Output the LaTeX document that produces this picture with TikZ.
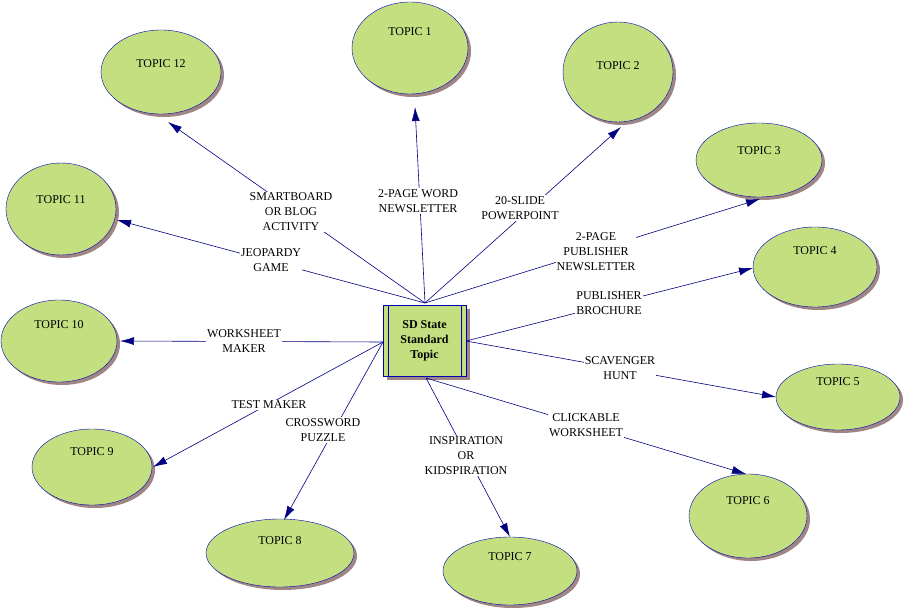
\documentclass[tikz,border=0pt]{standalone}
\usepackage{fontspec}
\setmainfont{Liberation Serif}
\usetikzlibrary{shapes.geometric,arrows.meta}
\definecolor{leaf}{HTML}{C3DF80}
\definecolor{shad}{HTML}{A08585}
\definecolor{navy}{HTML}{000080}
\begin{document}
\begin{tikzpicture}[x=1pt,y=-1pt,
  lab/.style={fill=white,inner sep=1pt,align=center,font=\fontsize{12}{15}\selectfont},
  conn/.style={draw=navy,line width=0.6pt,-{Latex[length=14pt,width=8pt]}},
  ttl/.style={font=\fontsize{12}{14}\selectfont}]
\useasboundingbox (0,0) rectangle (904,612);
\newcommand{\topic}[7]{% name,x,y,rx,ry,label,texty
  \fill[shad] (#2+3,#3+3) ellipse [x radius=#4, y radius=#5];
  \node[ellipse,draw=blue!70!black,fill=leaf,minimum width=2*#4,minimum height=2*#5,inner sep=0pt] (#1) at (#2,#3) {};
  \node[ttl] (#1l) at (#2,#7) {#6};}
\topic{t1}{410}{48}{58}{46}{TOPIC 1}{32}
\topic{t2}{618}{72}{55}{50}{TOPIC 2}{66}
\topic{t3}{759}{160}{63}{37}{TOPIC 3}{151}
\topic{t4}{815}{267}{62}{40}{TOPIC 4}{251}
\topic{t5}{838}{397}{62}{33}{TOPIC 5}{382}
\topic{t6}{748}{516}{59}{42}{TOPIC 6}{501}
\topic{t7}{510}{571}{67}{34}{TOPIC 7}{557}
\topic{t8}{280}{553}{74}{34}{TOPIC 8}{541}
\topic{t9}{92}{467}{60}{38}{TOPIC 9}{452}
\topic{t10}{59}{341}{58}{41}{TOPIC 10}{325}
\topic{t11}{61}{209}{55}{46}{TOPIC 11}{200}
\topic{t12}{161}{72}{60}{42}{TOPIC 12}{64}
% central box
\fill[shad] (387,309) rectangle (470,380);
\node[draw=blue!70!black,fill=leaf,minimum width=83,minimum height=71,inner sep=0pt,align=center,font=\fontsize{12}{15}\selectfont\bfseries] (c) at (424.5,340.5) {SD State\\Standard\\Topic};
\draw[blue!70!black] (388,305) -- (388,376) (461,305) -- (461,376);
\coordinate (ctop) at (425,303);
\coordinate (cleft) at (383,342);
\coordinate (cright) at (466,341);
\coordinate (cbot) at (426,378);
% arrow tips on ellipse borders
\coordinate (e12) at (168,122);
\coordinate (e1) at (415,107);
\coordinate (e2) at (621,127);
\coordinate (e3) at (760,199);
\coordinate (e11) at (117,220);
\coordinate (e4) at (753,268);
\coordinate (e5) at (776,397);
\coordinate (e6) at (746,474);
\coordinate (e7) at (510,537);
\coordinate (e8) at (284,520);
\coordinate (e9) at (153,467);
\coordinate (e10) at (120,341);
% connectors
\draw[conn] (ctop) -- (e12);
\draw[conn] (ctop) -- (e1);
\draw[conn] (ctop) -- (e2);
\draw[conn] (ctop) -- (e3);
\draw[conn] (ctop) -- (e11);
\draw[conn] (cright) -- (e4);
\draw[conn] (cright) -- (e5);
\draw[conn] (cbot) -- (e6);
\draw[conn] (cbot) -- (e7);
\draw[conn] (cleft) -- (e8);
\draw[conn] (cleft) -- (e9);
\draw[conn] (cleft) -- (e10);
% labels
\node[lab] (l12) at (291,212) {SMARTBOARD\\OR BLOG\\ACTIVITY};
\node[lab] (l1) at (418,201) {2-PAGE WORD\\NEWSLETTER};
\node[lab] (l2) at (520,208) {20-SLIDE\\POWERPOINT};
\node[lab] (l3) at (596,252) {2-PAGE\\PUBLISHER\\NEWSLETTER};
\node[lab] (l11) at (271,260) {JEOPARDY\\GAME};
\node[lab] (l4) at (609,303) {PUBLISHER\\BROCHURE};
\node[lab] (l5) at (620,368) {SCAVENGER\\HUNT};
\node[lab] (l6) at (586,425) {CLICKABLE\\WORKSHEET};
\node[lab] (l7) at (466,456) {INSPIRATION\\OR\\KIDSPIRATION};
\node[lab] (l8) at (323,430) {CROSSWORD\\PUZZLE};
\node[lab] (l9) at (269,405) {TEST MAKER};
\node[lab] (l10) at (244,341) {WORKSHEET\\MAKER};
\end{tikzpicture}
\end{document}
